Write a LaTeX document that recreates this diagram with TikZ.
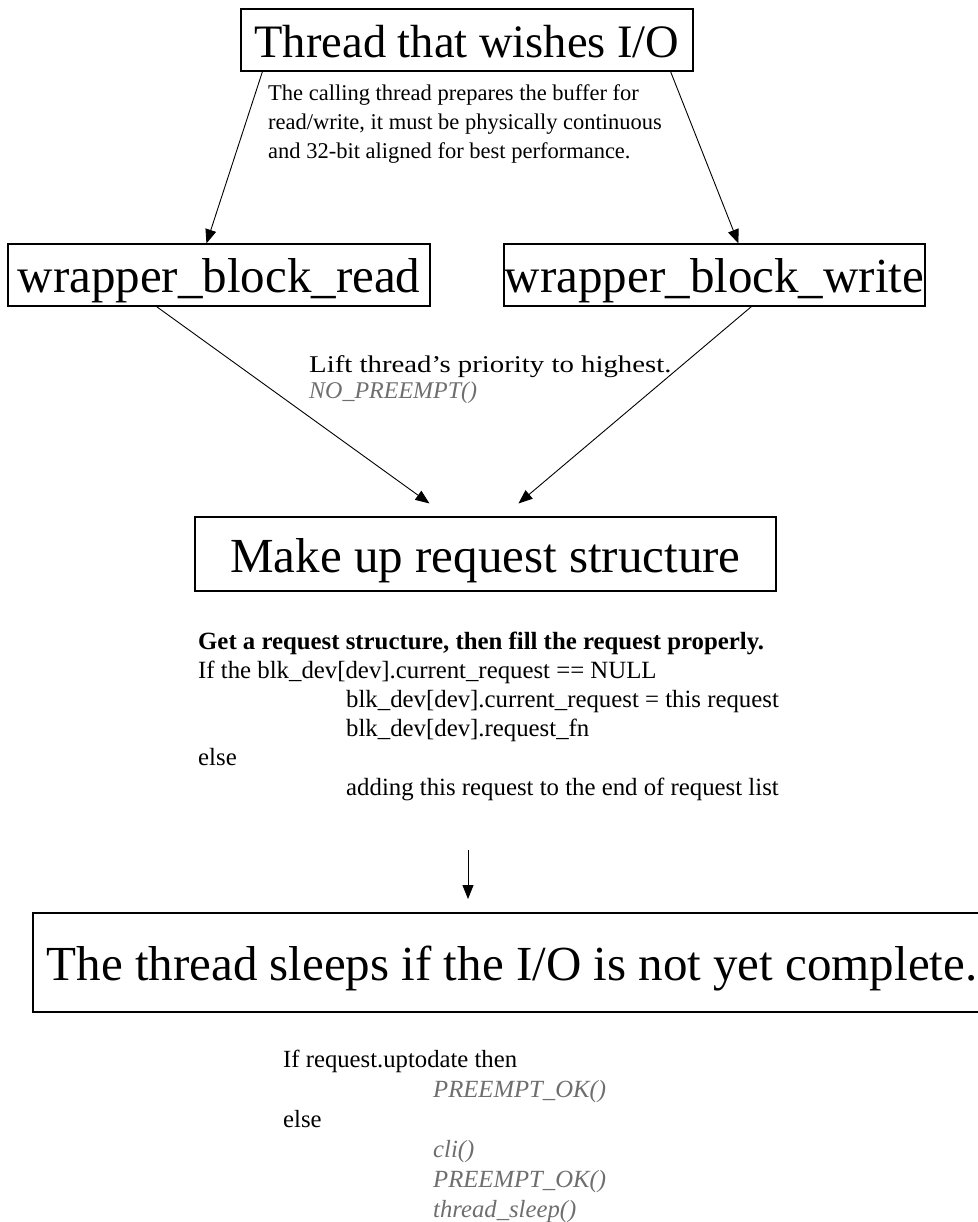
\documentclass[tikz,border=0pt]{standalone}
\usepackage{fontspec}
\setmainfont{Liberation Serif}
\usetikzlibrary{arrows.meta,calc}
\definecolor{codegray}{RGB}{110,110,110}
\begin{document}
\begin{tikzpicture}[x=1pt,y=-1pt,
  box/.style={draw,line width=1.1pt,inner sep=0pt,text depth=0pt},
  big/.style={font=\fontsize{49}{52}\selectfont},
  txt/.style={anchor=base west,inner sep=0pt},
  conn/.style={line width=0.9pt},
  arr/.style={conn,-{Triangle[length=14pt,width=11pt]}}]
\useasboundingbox (0,0) rectangle (977,1222);

% boxes
\node[box,font=\fontsize{46.5}{50}\selectfont,minimum width=452pt,minimum height=62pt,text height=36pt] (title) at (467,40) {Thread that wishes I/O};
\node[box,big,minimum width=422pt,minimum height=62pt,text height=36pt] (read) at (219,275) {wrapper\_block\_read};
\node[box,big,minimum width=421pt,minimum height=62pt,text height=36pt] (write) at (714.5,275) {wrapper\_block\_write};
\node[box,big,minimum width=581pt,minimum height=74pt,text height=36pt] (mk) at (485.5,554) {Make up request structure};
\node[box,big,minimum width=958pt,minimum height=99pt,text height=35pt] (bot) at (512,962.5) {The thread sleeps if the I/O is not yet complete.};

% annotations
\node[txt,font=\fontsize{22.5}{29}\selectfont] (annot) at (268,100.7) {\begin{tabular}[t]{@{}l@{}}The calling thread prepares the buffer for\\ read/write, it must be physically continuous\\ and 32-bit aligned for best performance.\end{tabular}};

\node[txt,font=\fontsize{24}{26}\selectfont] (lift) at (309,372) {\begin{tabular}[t]{@{}l@{}}\scalebox{1.2}[1]{Lift thread’s priority to highest.}\\ \color{codegray}\itshape NO\_PREEMPT()\end{tabular}};

\node[txt,font=\fontsize{24.8}{29.2}\selectfont] (req) at (198,649) {\begin{tabular}[t]{@{}l@{}}\textbf{Get a request structure, then fill the request properly.}\\
If the blk\_dev[dev].current\_request == NULL\\
\hspace*{148pt}blk\_dev[dev].current\_request = this request\\
\hspace*{148pt}blk\_dev[dev].request\_fn\\
else\\
\hspace*{148pt}adding this request to the end of request list\end{tabular}};

\node[txt,font=\fontsize{24.7}{30}\selectfont] (sleep) at (283,1067) {\begin{tabular}[t]{@{}l@{}}If request.uptodate then\\
\hspace*{150pt}{\color{codegray}\itshape PREEMPT\_OK()}\\
else\\
\hspace*{150pt}{\color{codegray}\itshape cli()}\\
\hspace*{150pt}{\color{codegray}\itshape PREEMPT\_OK()}\\
\hspace*{150pt}{\color{codegray}\itshape thread\_sleep()}\end{tabular}};

% connectors
\draw[arr] ([xshift=22pt]title.south west) -- ([xshift=199pt]read.north west);
\draw[arr] ([xshift=-23pt]title.south east) -- ([xshift=235pt]write.north west);
\draw[arr] ([xshift=149pt]read.south west) -- ([xshift=235pt,yshift=13pt]mk.north west);
\draw[arr] ([xshift=248pt]write.south west) -- ([xshift=324pt,yshift=13pt]mk.north west);
\coordinate (dstart) at (468,850);
\coordinate (dend) at (468,899);
\draw[arr] (dstart) -- (dend);
\end{tikzpicture}
\end{document}
